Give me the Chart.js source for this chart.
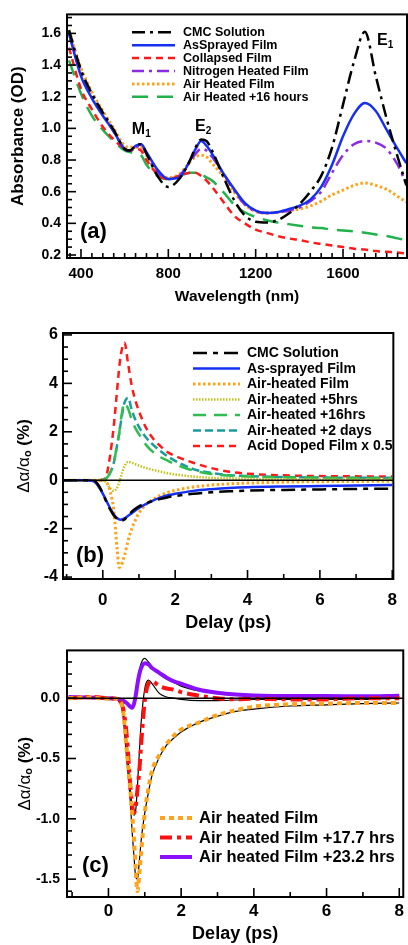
<!DOCTYPE html>
<html>
<head>
<meta charset="utf-8">
<script src="https://cdn.jsdelivr.net/npm/chart.js@4.4.1/dist/chart.umd.min.js"></script>
<style>
  html, body { margin: 0; padding: 0; background: #fff; }
  body { width: 408px; height: 945px; position: relative; overflow: hidden; }
  .panel { position: absolute; left: 0; width: 408px; }
</style>
</head>
<body>
<div class="panel" style="top:0;height:310px"><canvas id="chartA"></canvas></div>
<div class="panel" style="top:315px;height:320px"><canvas id="chartB"></canvas></div>
<div class="panel" style="top:635px;height:310px"><canvas id="chartC"></canvas></div>
<script>
// ---- (a) absorbance spectra
const wavelength = [345, 400, 450, 500, 550, 600, 625, 650, 675, 700, 750, 800, 850, 900, 925, 950, 975, 1000, 1050, 1100, 1150, 1200, 1250, 1300, 1350, 1400, 1450, 1500, 1550, 1600, 1650, 1700, 1750, 1800, 1850, 1890];
const cmcA       = [1.62, 1.37, 1.22, 1.10, 0.99, 0.87, 0.86, 0.89, 0.90, 0.84, 0.70, 0.63, 0.68, 0.80, 0.88, 0.93, 0.92, 0.86, 0.70, 0.55, 0.45, 0.41, 0.405, 0.42, 0.46, 0.52, 0.60, 0.70, 0.88, 1.15, 1.42, 1.61, 1.33, 1.06, 0.82, 0.64];
const sprayedA   = [1.60, 1.33, 1.19, 1.08, 0.98, 0.87, 0.86, 0.89, 0.90, 0.85, 0.74, 0.68, 0.69, 0.80, 0.87, 0.92, 0.89, 0.84, 0.72, 0.62, 0.53, 0.48, 0.465, 0.47, 0.49, 0.51, 0.55, 0.63, 0.77, 0.95, 1.09, 1.16, 1.11, 0.99, 0.87, 0.78];
const collapsedA = [1.51, 1.25, 1.12, 1.01, 0.93, 0.87, 0.86, 0.87, 0.86, 0.80, 0.71, 0.68, 0.70, 0.72, 0.72, 0.70, 0.67, 0.63, 0.54, 0.45, 0.40, 0.36, 0.34, 0.32, 0.305, 0.295, 0.28, 0.27, 0.26, 0.25, 0.24, 0.234, 0.225, 0.22, 0.215, 0.21];
const nitrogenA  = [1.60, 1.35, 1.20, 1.09, 0.98, 0.87, 0.86, 0.88, 0.89, 0.84, 0.72, 0.68, 0.70, 0.79, 0.84, 0.87, 0.86, 0.82, 0.72, 0.61, 0.52, 0.475, 0.465, 0.47, 0.48, 0.50, 0.54, 0.60, 0.72, 0.83, 0.90, 0.92, 0.91, 0.87, 0.77, 0.65];
const airA       = [1.62, 1.38, 1.23, 1.11, 1.00, 0.89, 0.88, 0.88, 0.88, 0.83, 0.72, 0.69, 0.71, 0.79, 0.82, 0.83, 0.82, 0.78, 0.70, 0.60, 0.52, 0.475, 0.465, 0.47, 0.48, 0.49, 0.51, 0.54, 0.58, 0.61, 0.64, 0.655, 0.64, 0.615, 0.57, 0.535];
const air16A     = [1.43, 1.22, 1.08, 0.99, 0.92, 0.86, 0.85, 0.84, 0.83, 0.77, 0.70, 0.68, 0.70, 0.72, 0.72, 0.71, 0.69, 0.67, 0.60, 0.52, 0.47, 0.44, 0.42, 0.405, 0.395, 0.385, 0.375, 0.37, 0.36, 0.355, 0.35, 0.34, 0.33, 0.32, 0.305, 0.295];
const xTicksA = [400, 800, 1200, 1600];
const yTicksA = [0.2, 0.4, 0.6, 0.8, 1.0, 1.2, 1.4, 1.6];

// ---- (b) transient absorption
const delayB = [-1.1, -0.5, -0.3, -0.2, -0.1, 0, 0.1, 0.2, 0.3, 0.4, 0.45, 0.5, 0.6, 0.7, 0.8, 0.9, 1.0, 1.2, 1.4, 1.6, 1.8, 2.0, 2.5, 3, 3.5, 4, 5, 6, 7, 8];
const cmcB    = [0, 0, 0, -0.05, -0.25, -0.55, -0.9, -1.2, -1.45, -1.6, -1.65, -1.67, -1.62, -1.45, -1.3, -1.18, -1.08, -0.95, -0.85, -0.77, -0.7, -0.65, -0.56, -0.5, -0.46, -0.43, -0.4, -0.38, -0.36, -0.35];
const sprayB  = [0, 0, -0.02, -0.1, -0.3, -0.55, -0.85, -1.15, -1.4, -1.57, -1.62, -1.63, -1.58, -1.47, -1.36, -1.25, -1.15, -0.98, -0.83, -0.71, -0.62, -0.56, -0.44, -0.37, -0.32, -0.29, -0.26, -0.24, -0.22, -0.2];
const airB    = [0, 0, 0, 0, 0, 0, -0.08, -0.45, -1.2, -2.9, -3.6, -3.55, -3.1, -2.5, -2.0, -1.65, -1.35, -1.0, -0.78, -0.62, -0.5, -0.42, -0.28, -0.2, -0.15, -0.12, -0.08, -0.06, -0.05, -0.04];
const air5B   = [0, 0, 0, 0, 0, 0, -0.1, -0.33, -0.44, -0.3, -0.1, 0.15, 0.58, 0.76, 0.72, 0.66, 0.6, 0.5, 0.42, 0.35, 0.29, 0.24, 0.15, 0.1, 0.08, 0.06, 0.04, 0.03, 0.03, 0.03];
const air16B  = [0, 0, 0, 0, 0, 0.02, 0.08, 0.3, 0.7, 1.5, 1.9, 2.5, 3.2, 2.95, 2.5, 2.15, 1.9, 1.45, 1.15, 0.95, 0.8, 0.66, 0.4, 0.26, 0.19, 0.15, 0.12, 0.1, 0.09, 0.08];
const air2dB  = [0, 0, 0, 0, 0, 0.02, 0.08, 0.3, 0.7, 1.5, 1.9, 2.4, 3.2, 3.4, 2.9, 2.5, 2.2, 1.75, 1.45, 1.2, 0.98, 0.8, 0.46, 0.3, 0.21, 0.17, 0.13, 0.11, 0.1, 0.1];
const acidB   = [0, 0, 0, 0, 0, 0.02, 0.2, 1.0, 2.2, 3.8, 4.6, 5.2, 5.68, 4.8, 3.9, 3.3, 2.85, 2.15, 1.7, 1.4, 1.15, 1.0, 0.72, 0.5, 0.35, 0.27, 0.2, 0.17, 0.16, 0.15];
const xTicksB = [0, 2, 4, 6, 8];
const yTicksB = [-4, -2, 0, 2, 4, 6];

// ---- (c) aged films + fits
const delayC = [-1.1, -0.5, 0, 0.2, 0.3, 0.4, 0.5, 0.6, 0.65, 0.7, 0.75, 0.8, 0.85, 0.9, 1.0, 1.1, 1.2, 1.4, 1.6, 1.8, 2.0, 2.5, 3, 3.5, 4, 5, 6, 7, 8];
const airC    = [0, 0.005, -0.005, -0.005, -0.02, -0.1, -0.42, -0.75, -0.95, -1.15, -1.42, -1.6, -1.45, -1.28, -0.95, -0.75, -0.6, -0.47, -0.38, -0.31, -0.26, -0.2, -0.14, -0.1, -0.07, -0.05, -0.045, -0.04, -0.04];
const air177C = [0, 0.01, 0, -0.005, -0.02, -0.08, -0.3, -0.72, -0.88, -0.95, -0.9, -0.75, -0.6, -0.38, -0.02, 0.12, 0.14, 0.1, 0.08, 0.07, 0.05, 0.02, 0.0, -0.01, -0.005, -0.01, -0.01, 0.0, 0.0];
const air232C = [0.01, 0.005, 0.0, -0.005, -0.01, -0.02, -0.04, -0.07, -0.08, -0.05, 0.02, 0.12, 0.2, 0.25, 0.29, 0.28, 0.25, 0.21, 0.17, 0.14, 0.12, 0.07, 0.045, 0.03, 0.022, 0.017, 0.017, 0.015, 0.02];
const fit232C = [0, 0, 0, -0.005, -0.01, -0.02, -0.04, -0.07, -0.08, -0.05, 0.03, 0.14, 0.23, 0.29, 0.33, 0.3, 0.26, 0.2, 0.16, 0.13, 0.1, 0.06, 0.04, 0.03, 0.02, 0.015, 0.01, 0.01, 0.015];
const fit177C = [0, 0, 0, -0.01, -0.03, -0.1, -0.35, -0.75, -0.9, -0.97, -0.93, -0.72, -0.45, -0.2, 0.08, 0.15, 0.12, 0.04, 0.01, 0.0, -0.01, -0.02, -0.02, -0.015, -0.01, -0.01, -0.01, -0.01, 0.0];
const fitAirC = [0, 0, 0, -0.01, -0.02, -0.15, -0.5, -0.85, -1.1, -1.3, -1.48, -1.5, -1.35, -1.18, -0.95, -0.78, -0.64, -0.49, -0.39, -0.33, -0.28, -0.2, -0.15, -0.11, -0.09, -0.065, -0.055, -0.045, -0.04];
const xTicksC = [0, 2, 4, 6, 8];
const yTicksC = [-1.5, -1.0, -0.5, 0.0];

const FONT = "'Liberation Sans', Arial, sans-serif";
Chart.defaults.font.family = FONT;
Chart.defaults.color = "#000";

function series(xs, ys, label, color, dash, width) {
  return {
    label,
    data: xs.map((x, i) => ({ x, y: ys[i] })),
    borderColor: color,
    borderDash: dash,
    borderWidth: width,
    pointRadius: 0,
    fill: false,
    cubicInterpolationMode: "monotone"
  };
}

// text with subscripts: parts = [[text, font, dy]]
function richText(ctx, parts, x, y, align) {
  let w = 0;
  parts.forEach((p) => { ctx.font = p[1]; w += ctx.measureText(p[0]).width; });
  let cx = align === "center" ? x - w / 2 : x;
  ctx.textAlign = "left";
  parts.forEach((p) => {
    ctx.font = p[1];
    ctx.fillText(p[0], cx, y + (p[2] || 0));
    cx += ctx.measureText(p[0]).width;
  });
}

// frame, inward ticks, zero line, legend, labels
function makeDecor(o) {
  return {
    id: "decor",
    afterDraw(chart) {
      const ctx = chart.ctx;
      const a = chart.chartArea;
      const x = chart.scales.x, y = chart.scales.y;
      ctx.save();
      ctx.strokeStyle = "#000";
      ctx.fillStyle = "#000";
      ctx.setLineDash([]);

      if (o.zeroLine) {
        ctx.lineWidth = 1.5;
        const py = y.getPixelForValue(0);
        ctx.beginPath(); ctx.moveTo(a.left, py); ctx.lineTo(a.right, py); ctx.stroke();
      }

      ctx.lineWidth = 1.6;
      const first = (min, step) => Math.ceil(min / step - 1e-9);
      for (let k = first(x.min, o.xMinor); k * o.xMinor <= x.max + 1e-9; k++) {
        const v = k * o.xMinor;
        const px = x.getPixelForValue(v);
        const major = o.xMajor.some((t) => Math.abs(t - v) < 1e-6);
        ctx.beginPath(); ctx.moveTo(px, a.bottom); ctx.lineTo(px, a.bottom - (major ? 9 : 5)); ctx.stroke();
      }
      for (let k = first(y.min, o.yMinor); k * o.yMinor <= y.max + 1e-9; k++) {
        const v = k * o.yMinor;
        const py = y.getPixelForValue(v);
        const major = o.yMajor.some((t) => Math.abs(t - v) < 1e-6);
        ctx.beginPath(); ctx.moveTo(a.left, py); ctx.lineTo(a.left + (major ? 9 : 5), py); ctx.stroke();
      }

      ctx.lineWidth = 2;
      ctx.strokeRect(a.left, a.top, a.right - a.left, a.bottom - a.top);

      // legend
      const L = o.legend;
      let row = 0;
      chart.data.datasets.forEach((ds) => {
        if (!ds.label) return;
        const ly = L.y0 + row * L.dy;
        ctx.strokeStyle = ds.borderColor;
        ctx.lineWidth = ds.borderWidth;
        ctx.setLineDash(ds.borderDash || []);
        ctx.beginPath(); ctx.moveTo(L.x0, ly); ctx.lineTo(L.x1, ly); ctx.stroke();
        ctx.setLineDash([]);
        ctx.font = L.font;
        ctx.textAlign = "left";
        ctx.textBaseline = "middle";
        ctx.fillText(ds.label, L.tx, ly + 0.5);
        row++;
      });

      ctx.textBaseline = "alphabetic";
      (o.notes || []).forEach((n) => {
        richText(ctx, n.parts, x.getPixelForValue(n.x), y.getPixelForValue(n.y), "left");
      });
      ctx.font = "bold 22px " + FONT;
      ctx.fillText(o.tag, a.left + o.tagDx, a.bottom - o.tagDy);

      // axis titles
      ctx.textBaseline = "middle";
      richText(ctx, o.xTitle, (a.left + a.right) / 2, o.xTitleY, "center");
      ctx.translate(o.yTitleX, (a.top + a.bottom) / 2);
      ctx.rotate(-Math.PI / 2);
      richText(ctx, o.yTitle, 0, 0, "center");
      ctx.restore();
    }
  };
}

function makeChart(id, datasets, cfg) {
  cfg.decor.xMajor = cfg.xTicks;
  cfg.decor.yMajor = cfg.yTicks;
  return new Chart(document.getElementById(id), {
    type: "line",
    data: { datasets },
    plugins: [makeDecor(cfg.decor)],
    options: {
      responsive: true,
      maintainAspectRatio: false,
      animation: false,
      layout: { padding: { top: cfg.top, right: cfg.right, left: 0, bottom: 0 } },
      plugins: { legend: { display: false }, tooltip: { enabled: false } },
      scales: {
        x: {
          type: "linear",
          min: cfg.xMin, max: cfg.xMax,
          grid: { display: false, drawTicks: false },
          border: { display: false },
          afterBuildTicks: (s) => { s.ticks = cfg.xTicks.map((v) => ({ value: v })); },
          afterFit: (s) => { s.height = cfg.xHeight; },
          ticks: { font: { size: cfg.xFont, weight: "bold" }, padding: cfg.xPad, maxRotation: 0,
                   callback: (v) => String(v) }
        },
        y: {
          type: "linear",
          min: cfg.yMin, max: cfg.yMax,
          grid: { display: false, drawTicks: false },
          border: { display: false },
          afterBuildTicks: (s) => { s.ticks = cfg.yTicks.map((v) => ({ value: v })); },
          afterFit: (s) => { s.width = cfg.yWidth; },
          ticks: { font: { size: cfg.yFont, weight: "bold" }, padding: cfg.yPad,
                   callback: (v) => v.toFixed(cfg.yDec) }
        }
      }
    }
  });
}

const B = (px) => "bold " + px + "px " + FONT;
const R = (px) => px + "px " + FONT;

makeChart("chartA", [
  series(wavelength, cmcA, "CMC Solution", "#000000", [13, 5, 3, 5], 2.5),
  series(wavelength, sprayedA, "AsSprayed Film", "#1530f0", [], 2.5),
  series(wavelength, collapsedA, "Collapsed Film", "#ff1a1a", [7, 5], 2.5),
  series(wavelength, nitrogenA, "Nitrogen Heated Film", "#8b2be2", [12, 5, 3, 5], 2.5),
  series(wavelength, airA, "Air Heated Film", "#ffa31a", [2.5, 2.5], 3),
  series(wavelength, air16A, "Air Heated +16 hours", "#22b24c", [16, 9], 2.5)
], {
  top: 14, right: 1, xHeight: 52, yWidth: 67,
  xMin: 336, xMax: 1893, yMin: 0.181, yMax: 1.72,
  xTicks: xTicksA, yTicks: yTicksA, yDec: 1,
  xFont: 15, yFont: 14, xPad: 7, yPad: 6,
  decor: {
    xMinor: 50, yMinor: 0.05,
    legend: { x0: 132, x1: 175, tx: 183, y0: 32.3, dy: 12.9, font: B(12.5) },
    notes: [
      { x: 633, y: 0.965, parts: [["M", B(16)], ["1", B(10), 3]] },
      { x: 922, y: 0.985, parts: [["E", B(16)], ["2", B(10), 3]] },
      { x: 1756, y: 1.525, parts: [["E", B(16)], ["1", B(10), 3]] }
    ],
    tag: "(a)", tagDx: 13, tagDy: 20,
    xTitle: [["Wavelength (nm)", B(15.5)]], xTitleY: 297,
    yTitle: [["Absorbance (OD)", B(17)]], yTitleX: 18
  }
});

makeChart("chartB", [
  series(delayB, cmcB, "CMC Solution", "#000000", [14, 6, 5, 6], 2.5),
  series(delayB, sprayB, "As-sprayed Film", "#1530f0", [], 2.5),
  series(delayB, airB, "Air-heated Film", "#ffa31a", [2.5, 2.5], 3),
  series(delayB, air5B, "Air-heated +5hrs", "#c2c21a", [1.5, 1.5], 2.5),
  series(delayB, air16B, "Air-heated +16hrs", "#2ebd4e", [13, 8], 2.5),
  series(delayB, air2dB, "Air-heated +2 days", "#1a9c9c", [8, 4], 2.5),
  series(delayB, acidB, "Acid Doped Film x 0.5", "#ff1a1a", [7, 5], 2.5)
], {
  top: 18, right: 4, xHeight: 56, yWidth: 63,
  xMin: -1.1, xMax: 8.03, yMin: -4.08, yMax: 6.08,
  xTicks: xTicksB, yTicks: yTicksB, yDec: 0,
  xFont: 17, yFont: 16, xPad: 11, yPad: 5,
  decor: {
    xMinor: 1, yMinor: 0.5, zeroLine: true,
    legend: { x0: 193, x1: 240, tx: 247, y0: 38, dy: 15.5, font: B(14) },
    tag: "(b)", tagDx: 13, tagDy: 17,
    xTitle: [["Delay (ps)", B(18)]], xTitleY: 308,
    yTitle: [["\u0394\u03b1/\u03b1", R(17)], ["o", B(11), 4], [" (%)", B(17)]], yTitleX: 24
  }
});

makeChart("chartC", [
  series(delayC, airC, "Air heated Film", "#ffa31a", [5, 4], 4),
  series(delayC, air177C, "Air heated Film +17.7 hrs", "#ff1010", [12, 5, 4, 5], 4),
  series(delayC, air232C, "Air heated Film +23.2 hrs", "#8a10ff", [], 4),
  series(delayC, fit232C, "", "#000000", [], 1.2),
  series(delayC, fit177C, "", "#000000", [], 1.2),
  series(delayC, fitAirC, "", "#000000", [], 1.2)
], {
  top: 14, right: 1, xHeight: 48, yWidth: 67,
  xMin: -1.14, xMax: 8.11, yMin: -1.648, yMax: 0.396,
  xTicks: xTicksC, yTicks: yTicksC, yDec: 1,
  xFont: 17, yFont: 14, xPad: 4, yPad: 7,
  decor: {
    xMinor: 1, yMinor: 0.1, zeroLine: true,
    legend: { x0: 160, x1: 192, tx: 199, y0: 183, dy: 19.5, font: B(16.5) },
    tag: "(c)", tagDx: 15, tagDy: 25,
    xTitle: [["Delay (ps)", B(18)]], xTitleY: 299,
    yTitle: [["\u0394\u03b1/\u03b1", R(17)], ["o", B(11), 4], [" (%)", B(17)]], yTitleX: 25
  }
});
</script>
</body>
</html>
